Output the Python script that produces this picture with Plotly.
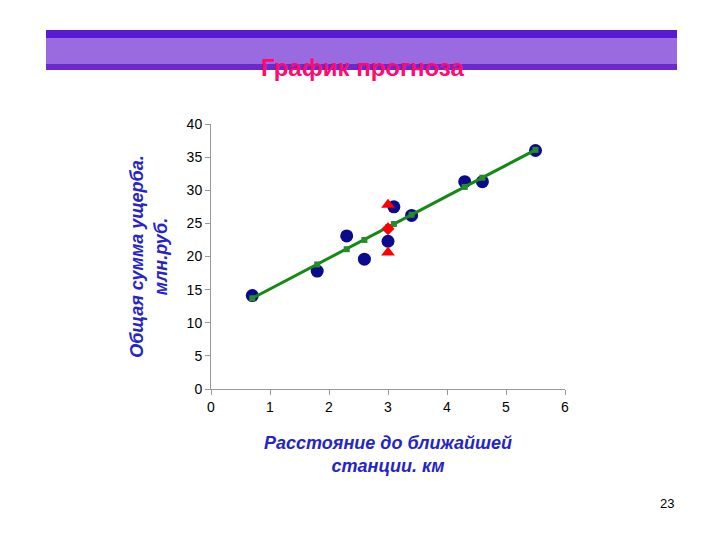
import plotly.graph_objects as go

distance = [0.7, 1.8, 2.3, 2.6, 3.0, 3.1, 3.4, 4.3, 4.6, 5.5]
damage = [14.1, 17.8, 23.1, 19.6, 22.3, 27.5, 26.2, 31.3, 31.3, 36.0]
fitted = [13.7, 18.8, 21.1, 22.5, 24.4, 24.9, 26.3, 30.5, 31.9, 36.1]
forecast_x = [3.0]
forecast_y = [24.2]
bounds_x = [3.0, 3.0]
bounds_y = [27.8, 20.6]
x_ticks = [0, 1, 2, 3, 4, 5, 6]
y_ticks = [0, 5, 10, 15, 20, 25, 30, 35, 40]

W, H = 720, 540
fig = go.Figure()
fig.add_trace(go.Scatter(x=distance, y=damage, mode="markers",
                         marker=dict(size=13, color="#0a0a8c", line=dict(width=0))))
fig.add_trace(go.Scatter(x=distance, y=fitted, mode="lines+markers",
                         line=dict(color="#138a13", width=3),
                         marker=dict(symbol="square", size=6, color="#2a8a2a")))
fig.add_trace(go.Scatter(x=bounds_x, y=bounds_y, mode="markers",
                         marker=dict(symbol="triangle-up", size=12, color="#ff0000")))
fig.add_trace(go.Scatter(x=forecast_x, y=forecast_y, mode="markers",
                         marker=dict(symbol="diamond", size=10, color="#ff0000")))

axis_font = dict(family="Liberation Sans, Arial", size=14, color="black")
fig.update_layout(
    width=W, height=H, showlegend=False,
    paper_bgcolor="white", plot_bgcolor="white",
    margin=dict(l=0, r=0, t=0, b=0, autoexpand=False),
    xaxis=dict(domain=[203 / W, 557 / W], range=[0, 6], tickvals=x_ticks,
               automargin=False,
               showgrid=False, zeroline=False, showline=True, linecolor="#999",
               ticks="outside", ticklen=5, tickcolor="#999", tickfont=axis_font,
               tickprefix="<b>", ticksuffix="</b>",
               title=dict(text="<b><i>Расстояние до ближайшей<br>станции. км</i></b>",
                          font=dict(family="Liberation Sans, Arial", size=18, color="#2424c8"),
                          standoff=22)),
    yaxis=dict(domain=[1 - 381 / H, 1 - 116 / H], range=[0, 40], tickvals=y_ticks,
               automargin=False,
               showgrid=False, zeroline=False, showline=True, linecolor="#999",
               ticks="outside", ticklen=5, tickcolor="#999", tickfont=axis_font,
               tickprefix="<b>", ticksuffix="</b>",
               title=dict(text="<b><i>Общая сумма ущерба.<br>млн.руб.</i></b>",
                          font=dict(family="Liberation Sans, Arial", size=18, color="#2424c8"),
                          standoff=14)),
    shapes=[
        dict(type="rect", xref="paper", yref="paper", x0=38 / W, x1=669 / W,
             y0=1 - 62 / H, y1=1 - 22 / H, line=dict(width=0),
             fillcolor="#9a6ae0", layer="below"),
        dict(type="rect", xref="paper", yref="paper", x0=38 / W, x1=669 / W,
             y0=1 - 30 / H, y1=1 - 22 / H, line=dict(width=0), fillcolor="#5a1ad0"),
        dict(type="rect", xref="paper", yref="paper", x0=38 / W, x1=669 / W,
             y0=1 - 62 / H, y1=1 - 56 / H, line=dict(width=0), fillcolor="#6a2ad0"),
    ],
    annotations=[
        dict(text="<b>График прогноза</b>", xref="paper", yref="paper",
             x=354 / W, y=1 - 44 / H, showarrow=False,
             font=dict(family="Liberation Sans, Arial", size=24, color="#ff0a6e")),
        dict(text="23", xref="paper", yref="paper", x=668 / W, y=1 - 505 / H,
             showarrow=False, font=dict(family="Liberation Sans, Arial", size=13, color="black")),
    ],
)
fig.write_html("out.html")
